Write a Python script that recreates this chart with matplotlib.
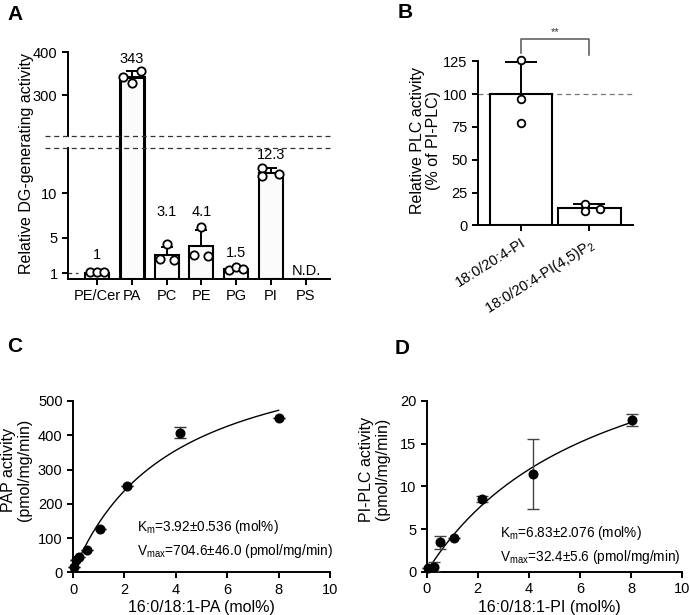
import numpy as np
import matplotlib.pyplot as plt

plt.rcParams['font.family'] = ['Liberation Sans', 'DejaVu Sans']
plt.rcParams['font.size'] = 10
plt.rcParams['axes.linewidth'] = 1.4
plt.rcParams['xtick.major.width'] = 1.4
plt.rcParams['ytick.major.width'] = 1.4
plt.rcParams['xtick.major.size'] = 4
plt.rcParams['ytick.major.size'] = 4

# ---- panel A: relative DG-generating activity
a_cats = ['PE/Cer', 'PA', 'PC', 'PE', 'PG', 'PI', 'PS']
a_means = [1, 343, 3.1, 4.1, 1.5, 12.3, 0]
a_sd = [0, 12, 0.9, 1.8, 0.1, 0.5, 0]
a_pts = [[1.15, 1.2, 1.2], [343, 329, 355], [2.6, 4.3, 2.5], [3.1, 6.2, 3.0],
         [1.4, 1.7, 1.5], [12.8, 11.9, 12.2], []]
a_text = ['1', '343', '3.1', '4.1', '1.5', '12.3', 'N.D.']

# ---- panel B: relative PLC activity
b_cats = ['18:0/20:4-PI', '18:0/20:4-PI(4,5)P$_{\\mathregular{2}}$']
b_means = [100, 13]
b_sd = [24.5, 3.3]
b_pts = [[126, 96, 78], [16.5, 11, 12.5]]

# ---- panel C: PAP kinetics
c_x = [0.04, 0.12, 0.25, 0.53, 1.05, 2.1, 4.18, 8.02]
c_y = [15, 36, 44, 65, 125, 253, 408, 449]
c_err = [0, 0, 0, 0, 0, 0, 15, 0]
c_km, c_vmax = 3.92, 704.6

# ---- panel D: PI-PLC kinetics
d_x = [0.06, 0.28, 0.52, 1.08, 2.15, 4.17, 8.06]
d_y = [0.4, 0.6, 3.45, 3.9, 8.5, 11.5, 17.8]
d_err = [0, 0.5, 0.76, 0, 0.35, 4.1, 0.7]
d_km, d_vmax = 6.83, 32.4

W, H = 690, 615
fig = plt.figure(figsize=(W / 100, H / 100), dpi=100)


def box(l, r, b, t):
    return [l / W, 1 - b / H, (r - l) / W, (b - t) / H]


# broken y scale for panel A (lower 0-15, gap, upper 205-400)
brk_v = [0.36, 15.1, 204.7, 400]
brk_p = [0, 131, 143, 227]


def fwd(v):
    return np.interp(v, brk_v, brk_p)


def inv(p):
    return np.interp(p, brk_p, brk_v)


axA = fig.add_axes(box(68, 330, 279, 52))
axA.set_yscale('function', functions=(fwd, inv))
xa = np.arange(len(a_cats))
lw_bar = [1.5, 2.2, 1.5, 1.5, 1.5, 1.5, 1.5]
axA.bar(xa, a_means, width=0.69, color='#fbfbfb', edgecolor='black', linewidth=lw_bar, zorder=2)
for i in range(len(a_cats)):
    if a_sd[i] > 0:
        axA.errorbar(xa[i], a_means[i], yerr=[[0], [a_sd[i]]], fmt='none', ecolor='black',
                     elinewidth=1.4, capsize=4.5, capthick=1.4, zorder=3)
offs_a = [[-0.2, 0, 0.2], [-0.24, 0, 0.26], [-0.2, 0, 0.2], [-0.2, 0, 0.2],
          [-0.2, 0, 0.2], [-0.25, -0.25, 0.23], []]
for i, p in enumerate(a_pts):
    if p:
        axA.plot(xa[i] + np.array(offs_a[i]), p, 'o', ms=6, mfc='white', mec='black',
                 mew=1.3, zorder=4, clip_on=False)
lab_off = [18, 12, 35, 18, 15, 13, 8]
for i, t in enumerate(a_text):
    top = a_means[i] + a_sd[i] if a_means[i] > 0 else brk_v[0]
    axA.annotate(t, (xa[i], top), xytext=(0, lab_off[i]), textcoords='offset pixels',
                 ha='center', va='center', fontsize=10.5)
axA.set_xlim(-0.83, 6.69)
axA.set_ylim(brk_v[0], 400)
axA.set_yticks([1, 5, 10, 300, 400])
axA.set_yticklabels(['1', '5', '10', '300', '400'])
axA.set_xticks(xa)
axA.set_xticklabels(a_cats, fontsize=10.5)
axA.tick_params(axis='both', labelsize=10.5)
axA.spines[['top', 'right', 'left']].set_visible(False)
ytr = axA.get_yaxis_transform()
axA.plot([0, 0], [brk_v[0], brk_v[1]], color='black', lw=1.4, transform=ytr, clip_on=False)
axA.plot([0, 0], [brk_v[2], 400], color='black', lw=1.4, transform=ytr, clip_on=False)
for yv in (brk_v[1], brk_v[2]):
    axA.plot([-0.088, 1.011], [yv, yv], color='#333333', lw=0.9, ls=(0, (4, 3)),
             transform=ytr, clip_on=False)
axA.plot([-0.83, -0.55], [1, 1], color='#333333', lw=0.9, ls=(0, (3, 3)))
axA.set_ylabel('Relative DG-generating activity', fontsize=11.5)
axA.yaxis.set_label_coords(-0.13, 0.51)
fig.text(15 / W, 1 - 14 / H, 'A', fontsize=15, fontweight='bold', ha='center', va='center')

# ---- B
axB = fig.add_axes(box(478, 633, 225.3, 61.3))
xb = np.arange(len(b_cats))
axB.axhline(100, color='#777777', lw=0.9, ls=(0, (4, 3)), zorder=1)
axB.bar(xb, b_means, width=0.92, color='white', edgecolor='black', linewidth=1.5, zorder=2)
for i in range(len(b_cats)):
    axB.errorbar(xb[i], b_means[i], yerr=[[0], [b_sd[i]]], fmt='none', ecolor='black',
                 elinewidth=1.4, capsize=11.5, capthick=1.4, zorder=3)
offs_b = [[0, 0, 0], [-0.07, -0.07, 0.15]]
for i, p in enumerate(b_pts):
    axB.plot(xb[i] + np.array(offs_b[i]), p, 'o', ms=5.5, mfc='white', mec='black',
             mew=1.3, zorder=4, clip_on=False)
axB.plot([0, 0, 1, 1], [131, 142, 142, 130], color='#555555', lw=1.1, clip_on=False)
axB.text(0.5, 147, '**', ha='center', va='center', fontsize=8, color='#333333')
axB.set_xlim(-0.63, 1.64)
axB.set_ylim(0, 125)
axB.set_yticks([0, 25, 50, 75, 100, 125])
axB.set_xticks(xb)
axB.set_xticklabels(b_cats, rotation=32, ha='right', va='top', rotation_mode='anchor')
axB.tick_params(axis='both', labelsize=10.5)
axB.spines[['top', 'right']].set_visible(False)
axB.set_ylabel('Relative PLC activity\n(% of PI-PLC)', fontsize=11.5, linespacing=1.1)
axB.yaxis.set_label_coords(-0.239, 0.52)
fig.text(405 / W, 1 - 13 / H, 'B', fontsize=15, fontweight='bold', ha='center', va='center')

# ---- C
axC = fig.add_axes(box(73, 330, 572.3, 401))
xs = np.linspace(0, 8, 200)
axC.plot(xs, c_vmax * xs / (c_km + xs), color='black', lw=1.0, zorder=2)
axC.errorbar(c_x, c_y, yerr=c_err, fmt='o', ms=6.2, color='black', ecolor='#333333',
             elinewidth=1.0, capsize=4, capthick=1.0, zorder=3, clip_on=False)
axC.set_xlim(0, 10)
axC.set_ylim(0, 500)
axC.set_xticks([0, 2, 4, 6, 8, 10])
axC.set_yticks([0, 100, 200, 300, 400, 500])
axC.tick_params(axis='both', labelsize=10.5)
axC.spines[['top', 'right']].set_visible(False)
axC.text(0.249, 0.264, 'K$\\mathregular{_m}$=3.92\u00b10.536 (mol%)', transform=axC.transAxes,
         fontsize=9.8, va='center')
axC.text(0.249, 0.124, 'V$\\mathregular{_{max}}$=704.6\u00b146.0 (pmol/mg/min)',
         transform=axC.transAxes, fontsize=9.8, va='center')
axC.set_ylabel('PAP activity\n(pmol/mg/min)', fontsize=11.5, linespacing=1.1)
axC.yaxis.set_label_coords(-0.16, 0.6)
axC.set_xlabel('16:0/18:1-PA (mol%)', fontsize=11.5)
axC.xaxis.set_label_coords(0.5, -0.162)
fig.text(15 / W, 1 - 347 / H, 'C', fontsize=15, fontweight='bold', ha='center', va='center')

# ---- D
axD = fig.add_axes(box(426.7, 682, 571.7, 401))
axD.plot(xs, d_vmax * xs / (d_km + xs), color='black', lw=1.0, zorder=2)
axD.errorbar(d_x, d_y, yerr=d_err, fmt='o', ms=6.2, color='black', ecolor='#444444',
             elinewidth=1.0, capsize=4, capthick=1.0, zorder=3, clip_on=False)
axD.set_xlim(0, 10)
axD.set_ylim(0, 20)
axD.set_xticks([0, 2, 4, 6, 8, 10])
axD.set_yticks([0, 5, 10, 15, 20])
axD.tick_params(axis='both', labelsize=10.5)
axD.spines[['top', 'right']].set_visible(False)
axD.text(0.287, 0.227, 'K$\\mathregular{_m}$=6.83\u00b12.076 (mol%)', transform=axD.transAxes,
         fontsize=9.8, va='center')
axD.text(0.287, 0.086, 'V$\\mathregular{_{max}}$=32.4\u00b15.6 (pmol/mg/min)',
         transform=axD.transAxes, fontsize=9.8, va='center')
axD.set_ylabel('PI-PLC activity\n(pmol/mg/min)', fontsize=11.5, linespacing=1.1)
axD.yaxis.set_label_coords(-0.144, 0.6)
axD.set_xlabel('16:0/18:1-PI (mol%)', fontsize=11.5)
axD.xaxis.set_label_coords(0.48, -0.166)
fig.text(402 / W, 1 - 349 / H, 'D', fontsize=15, fontweight='bold', ha='center', va='center')

fig.savefig('out.png', dpi=100)
